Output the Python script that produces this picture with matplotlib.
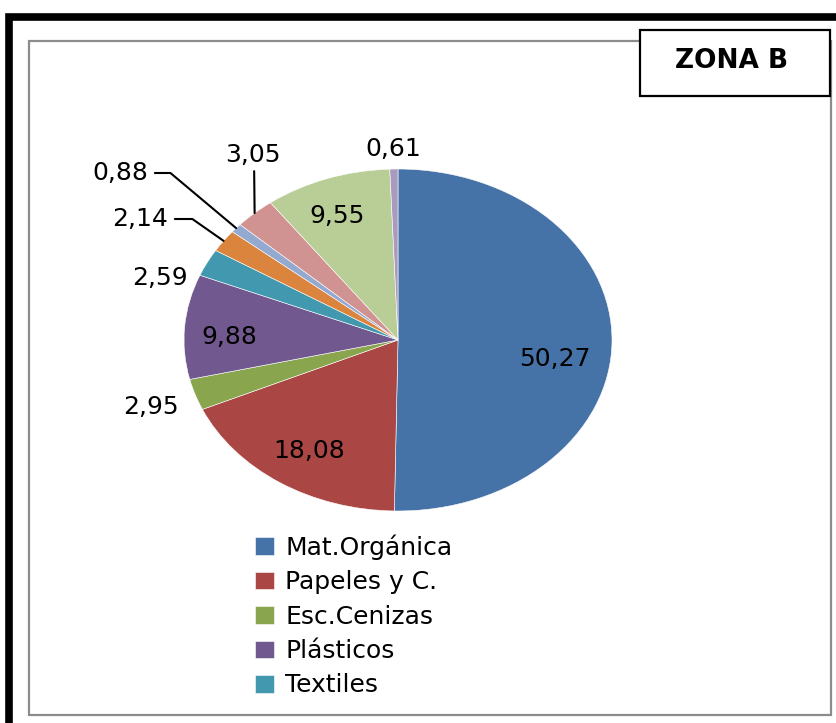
import matplotlib
matplotlib.use("Agg")
import matplotlib.pyplot as plt
from matplotlib.patches import Rectangle
import numpy as np

# ---- data ----
categories = ["Mat.Orgánica", "Papeles y C.", "Esc.Cenizas", "Plásticos", "Textiles",
              "Cat6", "Cat7", "Cat8", "Cat9", "Cat10"]
values = [50.27, 18.08, 2.95, 9.88, 2.59, 2.14, 0.88, 3.05, 9.55, 0.61]
value_labels = ["50,27", "18,08", "2,95", "9,88", "2,59", "2,14", "0,88", "3,05", "9,55", "0,61"]
legend_count = 5
title = "ZONA B"

colors = ["#4572A7", "#AA4643", "#89A54E", "#71588F", "#4198AF",
          "#DB843D", "#93A9CF", "#D19392", "#B9CD96", "#A99BBD"]

W, H = 837, 723
fig = plt.figure(figsize=(W / 100, H / 100), dpi=100)
fig.patch.set_facecolor("white")

def fx(px):
    return px / W

def fy(py):
    return 1 - py / H

# outer thick black border (extends past right/bottom edge)
fig.patches.append(Rectangle((fx(9), fy(740)), fx(900), (740 - 17) / H,
                             transform=fig.transFigure, fill=False,
                             edgecolor="black", linewidth=5.5, zorder=0))
# inner gray frame
fig.patches.append(Rectangle((fx(29), fy(715)), fx(831 - 29), (715 - 41) / H,
                             transform=fig.transFigure, fill=False,
                             edgecolor="#8c8c8c", linewidth=1.6, zorder=1))

# pie axes (elliptical pie)
cx, cy, rx, ry = 398, 340, 214, 171
ax = fig.add_axes([fx(cx - rx), fy(cy + ry), 2 * rx / W, 2 * ry / H])
wedges, _ = ax.pie(values, colors=colors, startangle=90, counterclock=False,
                   wedgeprops=dict(edgecolor="white", linewidth=0.4))
ax.set_aspect("auto")
ax.set_xlim(-1, 1)
ax.set_ylim(-1, 1)
ax.axis("off")

font = "DejaVu Sans"
fs = 18

# label placement: (distance factor, angle offset deg)
placement = [(0.74, -8), (0.77, 1), (1.22, 0), (0.79, 3), (1.17, 9),
             (None, 0), (None, 0), (None, 0), (0.78, 2), (1.12, 0)]

for i, w in enumerate(wedges):
    mid = np.deg2rad((w.theta1 + w.theta2) / 2)
    dist, off = placement[i]
    if dist is None:
        continue
    a = mid + np.deg2rad(off)
    ax.text(dist * np.cos(a), dist * np.sin(a), value_labels[i],
            ha="center", va="center", fontsize=fs, family=font, color="black")

# leader-line labels (2,14 ; 0,88 ; 3,05)
def edge(i):
    w = wedges[i]
    mid = np.deg2rad((w.theta1 + w.theta2) / 2)
    return np.cos(mid), np.sin(mid)

def to_data(px, py):
    return (px - cx) / rx, (cy - py) / ry

# 2,14
ax.annotate(value_labels[5], xy=edge(5), xytext=to_data(140, 219),
            ha="center", va="center", fontsize=fs, family=font,
            arrowprops=dict(arrowstyle="-", color="black", lw=1.5,
                            relpos=(1, 0.5), shrinkA=3, shrinkB=0,
                            connectionstyle="angle,angleA=0,angleB=145,rad=0"))
# 0,88
ax.annotate(value_labels[6], xy=edge(6), xytext=to_data(120, 173),
            ha="center", va="center", fontsize=fs, family=font,
            arrowprops=dict(arrowstyle="-", color="black", lw=1.5,
                            relpos=(1, 0.5), shrinkA=3, shrinkB=0,
                            connectionstyle="angle,angleA=0,angleB=140,rad=0"))
# 3,05
ax.annotate(value_labels[7], xy=edge(7), xytext=to_data(253, 155),
            ha="center", va="center", fontsize=fs, family=font,
            arrowprops=dict(arrowstyle="-", color="black", lw=1.5,
                            relpos=(0.52, 0), shrinkA=1, shrinkB=0,
                            connectionstyle="arc3,rad=0"))

# legend (first entries only, as in the reference)
leg = fig.legend(wedges[:legend_count], categories[:legend_count],
                 loc="upper left", bbox_to_anchor=(fx(245), fy(524)),
                 frameon=False, prop=dict(family=font, size=18),
                 handlelength=0.75, handleheight=0.7, handletextpad=0.45,
                 labelspacing=0.42, borderaxespad=0)

# title box
fig.patches.append(Rectangle((fx(640), fy(96)), fx(830 - 640), (96 - 30) / H,
                             transform=fig.transFigure, fill=True, facecolor="white",
                             edgecolor="black", linewidth=1.6, zorder=2))
fig.text(fx(732), fy(61), title, ha="center", va="center", fontsize=19,
         fontweight="bold", family=font, zorder=3)

fig.savefig("out.png", dpi=100)
